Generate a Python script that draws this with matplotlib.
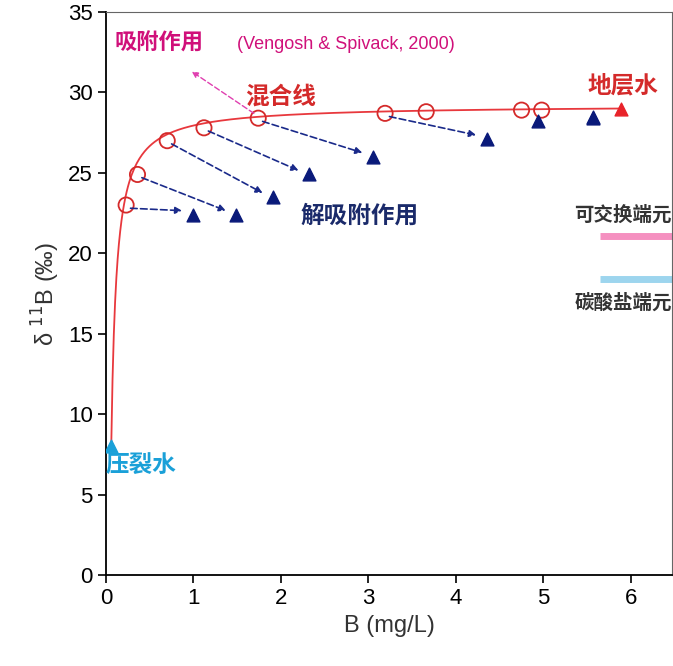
import numpy as np
import matplotlib
matplotlib.use("Agg")
import matplotlib.pyplot as plt
plt.rcParams['font.family'] = ['Arial', 'Liberation Sans', 'Noto Sans CJK SC', 'DejaVu Sans']

circ_B = [0.23, 0.36, 0.70, 1.12, 1.74, 3.19, 3.66, 4.75, 4.98]
circ_d = [23.0, 24.9, 27.0, 27.8, 28.4, 28.7, 28.8, 28.9, 28.9]
tri_B = [0.99, 1.49, 1.91, 2.32, 3.05, 4.35, 4.94, 5.57, 5.57]
tri_d = [22.4, 22.4, 23.5, 24.9, 26.0, 27.1, 28.2, 28.4, 28.5]
frac_B, frac_d = 0.06, 8.0
form_B, form_d = 5.89, 29.0

fig = plt.figure(figsize=(6.73, 6.66), dpi=100)
ax = fig.add_axes([106/673, 91/666, 566/673, 563/666])
ax.set_xlim(0, 6.47)
ax.set_ylim(0, 35)

# mixing curve between end members
B = np.linspace(frac_B, form_B, 400)
slope = (form_B*form_d - frac_B*frac_d) / (form_B - frac_B)
d = (frac_B*frac_d + (B - frac_B)*slope) / B
ax.plot(B, d, color='#e8383d', lw=1.3, zorder=2)

ax.scatter(circ_B, circ_d, s=120, facecolors='none', edgecolors='#d42a2a', linewidths=1.3, zorder=3)
ax.scatter(tri_B, tri_d, marker='^', s=85, color='#0a1a7a', zorder=3)
ax.scatter([form_B], [form_d], marker='^', s=85, color='#e8232a', zorder=3)
ax.scatter([frac_B], [frac_d], marker='^', s=85, color='#1aa0d8', zorder=3)

for i in range(6):
    ax.annotate('', xy=(tri_B[i]-0.12, tri_d[i]+0.25), xytext=(circ_B[i]+0.05, circ_d[i]-0.2),
                arrowprops=dict(arrowstyle='-|>', color='#1a2a8a', lw=1.2, ls=(0, (4, 2)),
                                mutation_scale=10, shrinkA=0, shrinkB=0))
ax.annotate('', xy=(0.98, 31.3), xytext=(circ_B[4]-0.05, circ_d[4]+0.3),
            arrowprops=dict(arrowstyle='-|>', color='#e040b0', lw=1.0, ls=(0, (4, 2)),
                            mutation_scale=9, shrinkA=0, shrinkB=0))

ax.plot([5.65, 6.47], [21.1, 21.1], color='#f590c0', lw=5, solid_capstyle='butt')
ax.plot([5.65, 6.47], [18.4, 18.4], color='#9dd5ee', lw=5, solid_capstyle='butt')

ax.text(0.1, 33.0, '吸附作用', color='#d0107a', fontsize=16, fontweight='bold', va='center')
ax.text(1.5, 33.0, '(Vengosh & Spivack, 2000)', color='#d0107a', fontsize=13, va='center')
ax.text(2.0, 29.7, '混合线', color='#d42a2a', fontsize=17, fontweight='bold', va='center', ha='center')
ax.text(5.5, 30.4, '地层水', color='#d42a2a', fontsize=17, fontweight='bold', va='center')
ax.text(2.22, 22.3, '解吸附作用', color='#1a2a6a', fontsize=17, fontweight='bold', va='center')
ax.text(6.47, 22.4, '可交换端元', color='#333333', fontsize=14, fontweight='bold', va='center', ha='right')
ax.text(6.47, 16.9, '碳酸盐端元', color='#333333', fontsize=14, fontweight='bold', va='center', ha='right')
ax.text(0.0, 6.8, '压裂水', color='#1aa0d8', fontsize=17, fontweight='bold', va='center')

ax.set_xticks(range(7))
ax.set_yticks(range(0, 36, 5))
ax.tick_params(labelsize=16, direction='out', length=6, width=1.2)
for s in ['top', 'right']:
    ax.spines[s].set_color('#666666')
for s in ['left', 'bottom']:
    ax.spines[s].set_linewidth(1.3)
ax.set_xlabel('B (mg/L)', fontsize=17, color='#333333')
ax.set_ylabel('δ $^{11}$B (‰)', fontsize=17, color='#333333')
fig.savefig('out.png', dpi=100)
